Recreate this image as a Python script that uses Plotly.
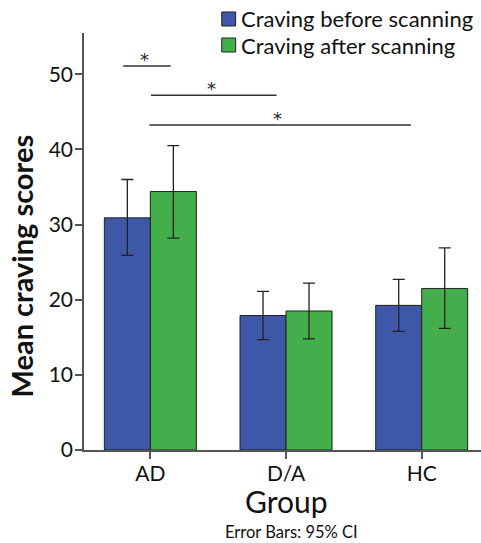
import plotly.graph_objects as go

groups = ["AD", "D/A", "HC"]
before_mean = [30.9, 17.9, 19.25]
before_ci_low = [25.9, 14.7, 15.8]
before_ci_high = [36.0, 21.1, 22.7]
after_mean = [34.4, 18.5, 21.5]
after_ci_low = [28.2, 14.8, 16.2]
after_ci_high = [40.5, 22.2, 26.9]

series_names = ["Craving before scanning", "Craving after scanning"]
y_ticks = [0, 10, 20, 30, 40, 50]

# significance brackets (x in category units, y in score units)
sig_x0 = [-0.20, 0.005, -0.007]
sig_x1 = [0.15, 0.93, 1.92]
sig_y = [51.1, 47.2, 43.25]
sig_label = ["*", "*", "*"]

FONT = "Lato"
BLUE = "#3F57A7"
GREEN = "#45AE4C"
EDGE = "#222222"

fig = go.Figure()
for name, mean, lo, hi, col in [
    (series_names[0], before_mean, before_ci_low, before_ci_high, BLUE),
    (series_names[1], after_mean, after_ci_low, after_ci_high, GREEN),
]:
    fig.add_trace(go.Bar(
        x=groups, y=mean, name=name,
        marker=dict(color=col, line=dict(color=EDGE, width=1)),
        error_y=dict(type="data", symmetric=False,
                     array=[h - m for h, m in zip(hi, mean)],
                     arrayminus=[m - l for m, l in zip(mean, lo)],
                     color="#222222", thickness=1.3, width=6),
        showlegend=False,
    ))

shapes = []
annotations = []
for x0, x1, y, lab in zip(sig_x0, sig_x1, sig_y, sig_label):
    shapes.append(dict(type="line", xref="x", yref="y", x0=x0, x1=x1, y0=y, y1=y,
                       line=dict(color="#333333", width=1.5)))
    annotations.append(dict(x=(x0 + x1) / 2 - 0.02, y=y, xref="x", yref="y", text=lab,
                            showarrow=False, yanchor="middle", yshift=7,
                            font=dict(family="DejaVu Sans", size=18, color="#222222")))

# custom legend
leg = [(series_names[0], BLUE, 1.0168, 1.0504, 1.0336),
       (series_names[1], GREEN, 0.9544, 0.988, 0.971)]
for name, col, y0, y1, yc in leg:
    shapes.append(dict(type="rect", xref="paper", yref="paper", x0=0.347, x1=0.382,
                       y0=y0, y1=y1, fillcolor=col, line=dict(color=EDGE, width=1)))
    annotations.append(dict(x=0.391, y=yc, xref="paper", yref="paper", text=name,
                            showarrow=False, xanchor="left", yanchor="middle",
                            font=dict(family=FONT, size=22, color="#111111")))

annotations.append(dict(x=0.5, y=0, xref="paper", yref="paper", text="Group",
                        showarrow=False, yanchor="middle", yshift=-51, xshift=4,
                        font=dict(family=FONT, size=30, color="#111111")))
annotations.append(dict(x=0.5, y=0, xref="paper", yref="paper", text="Error Bars: 95% CI",
                        showarrow=False, yanchor="middle", yshift=-82, xshift=9,
                        font=dict(family=FONT, size=16.5, color="#111111")))
annotations.append(dict(x=0, y=0.44, xref="paper", yref="paper", text="<b>Mean craving scores</b>",
                        showarrow=False, textangle=-90, xanchor="center", yanchor="middle",
                        xshift=-62,
                        font=dict(family=FONT, size=29, color="#111111")))

fig.update_layout(
    width=481, height=543,
    margin=dict(l=84, r=0, t=33, b=93),
    paper_bgcolor="white", plot_bgcolor="white",
    barmode="group", bargap=0.322, bargroupgap=0,
    shapes=shapes, annotations=annotations,
    font=dict(family=FONT, color="#111111"),
    xaxis=dict(range=[-0.489, 2.437], showline=True, linecolor="#555555", linewidth=1.5,
               ticks="outside", ticklen=7, tickcolor="#555555", tickwidth=1.5,
               tickfont=dict(family=FONT, size=21, color="#111111"),
               ticklabelstandoff=-3,
               showgrid=False, zeroline=False),
    yaxis=dict(range=[0, 55.5], tickvals=y_ticks, showline=True, linecolor="#555555",
               linewidth=1.5, ticks="outside", ticklen=7, tickcolor="#555555", tickwidth=1.5,
               tickfont=dict(family=FONT, size=21, color="#111111"),
               ticklabelstandoff=-2,
               showgrid=False, zeroline=False),
)

fig.write_html("out.html", config={"displayModeBar": False},
               post_script="document.body.style.margin='0';document.body.style.overflow='hidden';")
